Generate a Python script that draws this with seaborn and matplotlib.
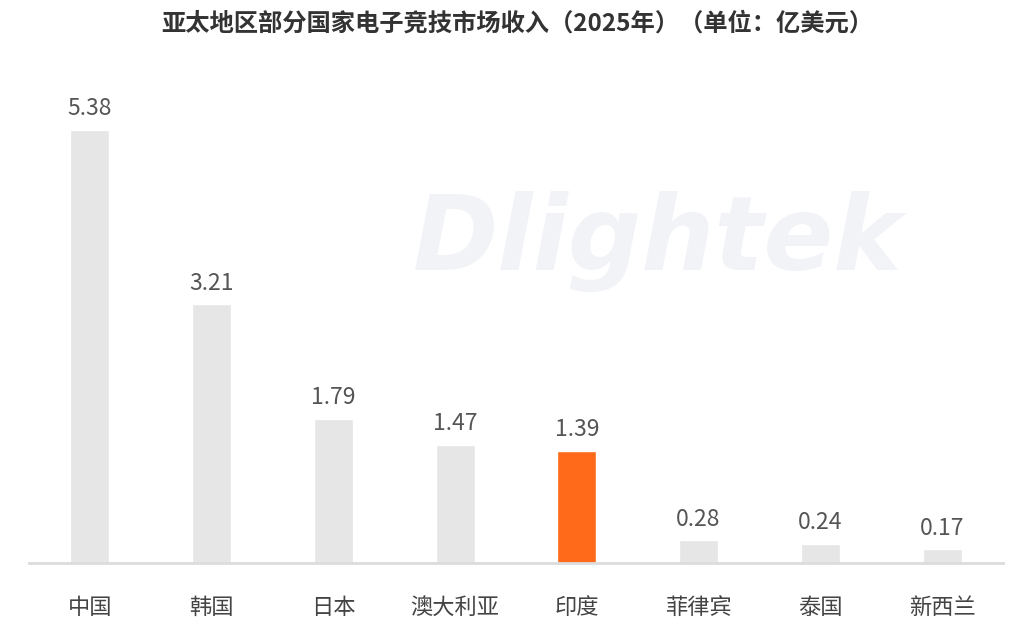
import seaborn as sns
import numpy as np
import pandas as pd
import matplotlib.pyplot as plt

# Data
countries = ["中国", "韩国", "日本", "澳大利亚", "印度", "菲律宾", "泰国", "新西兰"]
revenue = [5.38, 3.21, 1.79, 1.47, 1.39, 0.28, 0.24, 0.17]
highlight = "印度"

df = pd.DataFrame({"country": countries, "revenue": revenue})
palette = {c: ("#ff6a1a" if c == highlight else "#e6e6e6") for c in countries}

sns.set_style("white")
plt.rcParams['font.family'] = ['Noto Sans CJK SC', 'DejaVu Sans']

fig = plt.figure(figsize=(10.35, 6.24), dpi=100)
ax = fig.add_axes([0.028, 0.098, 0.941, 0.774])

# faint watermark
ax.text(0.645, 0.665, "Dlightek", transform=ax.transAxes, ha="center", va="center",
        fontsize=74, fontweight="bold", style="italic", color="#f2f3f7",
        family="DejaVu Sans", zorder=0)

sns.barplot(data=df, x="country", y="revenue", hue="country", palette=palette,
            width=0.32, saturation=1, legend=False, ax=ax, zorder=2)

for i, v in enumerate(revenue):
    ax.text(i, v + 0.12, f"{v:.2f}", ha="center", va="bottom",
            fontsize=16.5, color="#555555", fontweight="light")

ax.set_xlim(-0.5, 7.5)
ax.set_ylim(0, 6)
ax.set_xlabel("")
ax.set_ylabel("")
ax.set_yticks([])
ax.tick_params(axis="x", length=0, pad=24, labelsize=16, labelcolor="#444444")
for s in ["top", "right", "left"]:
    ax.spines[s].set_visible(False)
ax.spines["bottom"].set_color("#dcdcdc")
ax.spines["bottom"].set_linewidth(2)

fig.text(0.5, 0.962, "亚太地区部分国家电子竞技市场收入（2025年）（单位：亿美元）",
         ha="center", va="center", fontsize=17.5, fontweight="bold", color="#333333")

fig.savefig("out.png", dpi=100)
